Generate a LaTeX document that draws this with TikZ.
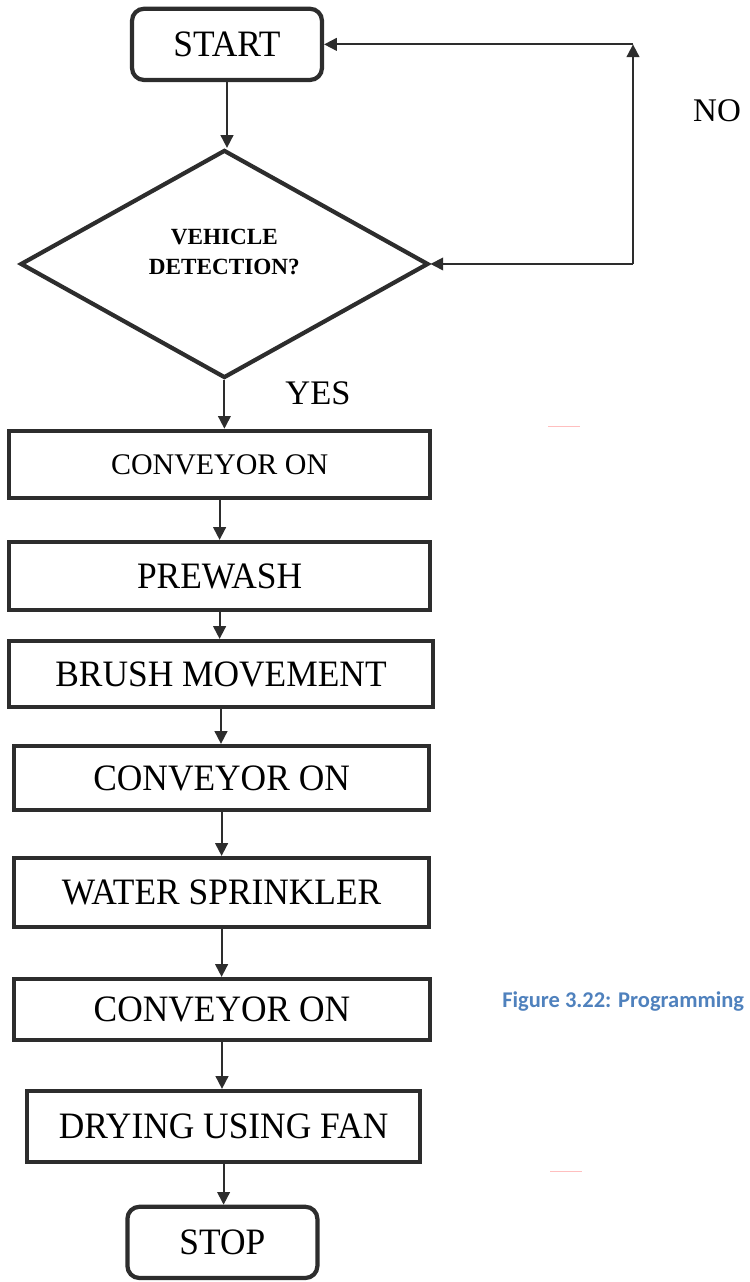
\documentclass[tikz,border=0pt]{standalone}
\usepackage{fontspec}
\setmainfont{Liberation Serif}
\newfontfamily\boxfont[FakeStretch=0.95]{Liberation Serif}
\newfontfamily\capfont{Carlito}
\usetikzlibrary{shapes.geometric,arrows.meta}
\definecolor{inkgray}{RGB}{45,45,45}
\definecolor{capblue}{RGB}{79,129,189}

\begin{document}
\begin{tikzpicture}[
  box/.style={draw=inkgray,line width=3pt,inner sep=0pt,font=\boxfont\fontsize{26.5}{30}\selectfont},
  term/.style={box,rounded corners=0.3cm,minimum width=4.75cm,minimum height=1.78cm},
  decision/.style={diamond,draw=inkgray,line width=3pt,inner sep=0pt,minimum width=10.2cm,minimum height=5.7cm},
  flow/.style={draw=inkgray,line width=1.3pt,-{Triangle[length=9pt,width=9pt]}}
]
  \useasboundingbox (0,0) rectangle (18.725,32.05);
  % start and decision
  \node[term] (start) at (5.675,30.94) {START};
  \node[decision] (detect) at (5.61,25.45) {};
  \node[align=center,font=\fontsize{16.5}{22}\selectfont\bfseries] (detecttext) at ([yshift=0.3cm]detect.center) {VEHICLE\\DETECTION?};
  % process steps
  \node[box,minimum width=10.52cm,minimum height=1.68cm,font=\fontsize{21.3}{26}\selectfont] (conv1) at (5.49,20.44) {CONVEYOR ON};
  \node[box,minimum width=10.52cm,minimum height=1.7cm] (prewash) at (5.49,17.65) {PREWASH};
  \node[box,minimum width=10.6cm,minimum height=1.65cm] (brush) at (5.525,15.2) {BRUSH MOVEMENT};
  \node[box,minimum width=10.37cm,minimum height=1.6cm] (conv2) at (5.54,12.6) {CONVEYOR ON};
  \node[box,minimum width=10.37cm,minimum height=1.72cm] (water) at (5.54,9.74) {WATER SPRINKLER};
  \node[box,minimum width=10.4cm,minimum height=1.53cm] (conv3) at (5.55,6.81) {CONVEYOR ON};
  \node[box,minimum width=9.82cm,minimum height=1.77cm] (drying) at (5.59,3.89) {DRYING USING FAN};
  \node[term] (stop) at (5.56,0.99) {STOP};
  % labels
  \node[font=\fontsize{23.5}{28}\selectfont] (nolabel) at (17.925,29.275) {NO};
  \node[font=\fontsize{24.5}{28}\selectfont] (yeslabel) at (7.95,22.225) {YES};
  \node[anchor=base west,inner sep=0pt,text=capblue,font=\capfont\bfseries\fontsize{16}{19}\selectfont] (caption) at (12.55,6.85) {Figure 3.22: Programming};
  % connectors
  \draw[flow] (start.south) -- (start.south |- detect.north);
  \draw[flow] (detect.south) -- (detect.south |- conv1.north);
  \foreach \a/\b in {conv1/prewash,prewash/brush,brush/conv2,conv2/water,water/conv3,conv3/drying,drying/stop}
    \draw[flow] (\a.south) -- (\a.south |- \b.north);
  % NO loop
  \coordinate (loopx) at (15.825,0);
  \coordinate (nobot) at (detect.east -| loopx);
  \coordinate (notop) at (start.east -| loopx);
  \draw[flow] (nobot) -- (detect.east);
  \draw[flow] (nobot) -- (notop);
  \draw[flow] (notop) -- (start.east);
  % faint marks
  \draw[red!25,line width=0.6pt] (13.7,21.4) -- (14.5,21.4);
  \draw[red!25,line width=0.6pt] (13.75,2.775) -- (14.55,2.775);
\end{tikzpicture}
\end{document}
